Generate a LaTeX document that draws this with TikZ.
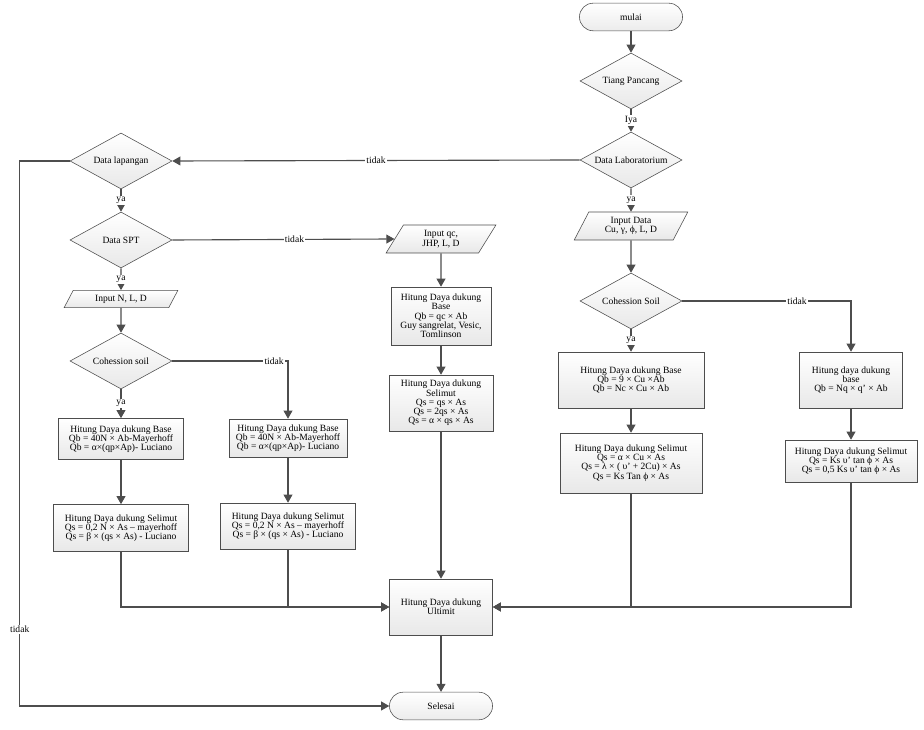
\documentclass[tikz,border=0pt]{standalone}
\usepackage{fontspec}
\setmainfont{Liberation Serif}
\usepackage{tikz}
\usetikzlibrary{arrows.meta,shapes.geometric,shadows}

\definecolor{garis}{HTML}{4D4D4D}

\begin{document}
\begin{tikzpicture}[
    font=\fontsize{6.8}{6.6}\selectfont,
    proses/.style={
        rectangle,
        draw=garis,
        top color=white,
        bottom color=gray!18,
        align=center,
        inner sep=1pt,
        drop shadow={opacity=0.2, shadow xshift=0.6pt, shadow yshift=-0.6pt}
    },
    keputusan/.style={
        diamond,
        aspect=1.85,
        draw=garis,
        top color=white,
        bottom color=gray!18,
        align=center,
        inner sep=0pt,
        minimum width=2.55cm,
        minimum height=1.4cm
    },
    masukan/.style={
        trapezium,
        trapezium left angle=65,
        trapezium right angle=115,
        trapezium stretches=true,
        draw=garis,
        top color=white,
        bottom color=gray!18,
        align=center,
        inner sep=1pt,
        minimum width=2.85cm,
        minimum height=0.7cm
    },
    terminal/.style={
        rectangle,
        rounded corners=3.4mm,
        draw=garis,
        top color=white,
        bottom color=gray!15,
        align=center,
        minimum width=2.575cm,
        minimum height=0.69cm
    },
    ket/.style={fill=white, inner sep=1pt},
    panah/.style={-{Triangle[length=0.2cm, width=0.22cm]}, draw=garis, thick}
]
\useasboundingbox (0,0) rectangle (23.1,18.25);

% JALUR LABORATORIUM (KANAN)
\node[terminal] (mulai) at (15.775, 17.825) {mulai};
\node[keputusan] (tiang) at (15.775, 16.225) {Tiang Pancang};
\node[keputusan] (lab) at (15.775, 14.25) {Data Laboratorium};
\node[masukan] (inputlab) at (15.775, 12.6) {Input Data\\Cu, γ, ϕ, L, D};
\node[keputusan] (kohesiR) at (15.775, 10.725) {Cohession Soil};
\node[proses, minimum width=3.65cm, minimum height=1.4cm] (baseD) at (15.775, 8.75)
    {Hitung Daya dukung Base\\Qb = 9 × Cu ×Ab\\Qb = Nc × Cu × Ab};
\node[proses, minimum width=2.575cm, minimum height=1.4cm] (baseE) at (21.275, 8.75)
    {Hitung daya dukung\\base\\Qb = Nq × q' × Ab};
\node[proses, minimum width=3.55cm, minimum height=1.5cm] (selD) at (15.775, 6.675)
    {Hitung Daya dukung Selimut\\Qs = α × Cu × As\\Qs = λ × ( υ' + 2Cu) × As\\Qs = Ks Tan ϕ × As};
\node[proses, minimum width=3.3cm, minimum height=1.05cm] (selE) at (21.275, 6.725)
    {Hitung Daya dukung Selimut\\Qs = Ks υ' tan ϕ × As\\Qs = 0,5 Ks υ' tan ϕ × As};

% JALUR LAPANGAN (KIRI)
\node[keputusan] (lapangan) at (3.025, 14.225) {Data lapangan};
\node[keputusan] (spt) at (3.025, 12.25) {Data SPT};
\node[masukan, minimum height=0.43cm] (inputN) at (3.025, 10.775) {Input N, L, D};
\node[keputusan] (kohesiL) at (3.025, 9.225) {Cohession soil};
\node[proses, minimum width=3.125cm, minimum height=1.025cm] (baseA) at (3.025, 7.275)
    {Hitung Daya dukung Base\\Qb = 40N × Ab-Mayerhoff\\Qb = α×(qp×Ap)- Luciano};
\node[proses, minimum width=2.95cm, minimum height=0.95cm] (baseB) at (7.2, 7.3)
    {Hitung Daya dukung Base\\Qb = 40N × Ab-Mayerhoff\\Qb = α×(qp×Ap)- Luciano};
\node[proses, minimum width=3.375cm, minimum height=1.175cm] (selA) at (3.025, 5.05)
    {Hitung Daya dukung Selimut\\Qs = 0,2 N × As – mayerhoff\\Qs = β × (qs × As) - Luciano};
\node[proses, minimum width=3.375cm, minimum height=1.15cm] (selB) at (7.2, 5.1)
    {Hitung Daya dukung Selimut\\Qs = 0,2 N × As – mayerhoff\\Qs = β × (qs × As) - Luciano};

% JALUR SONDIR (TENGAH)
\node[masukan, minimum width=2.75cm] (inputqc) at (11.025, 12.275) {Input qc,\\JHP, L, D};
\node[proses, minimum width=2.5cm, minimum height=1.45cm] (baseC) at (11.025, 10.35)
    {Hitung Daya dukung\\Base\\Qb = qc × Ab\\Guy sangrelat, Vesic,\\Tomlinson};
\node[proses, minimum width=2.6cm, minimum height=1.4cm] (selC) at (11.025, 8.175)
    {Hitung Daya dukung\\Selimut\\Qs = qs × As\\Qs = 2qs × As\\Qs = α × qs × As};

% HASIL
\node[proses, minimum width=2.575cm, minimum height=1.4cm] (ultimit) at (11.025, 3.075)
    {Hitung Daya dukung\\Ultimit};
\node[terminal] (selesai) at (11.025, 0.6) {Selesai};

% --- ALUR LABORATORIUM ---
\draw[panah] (mulai) -- (tiang);
\draw[panah] (tiang) -- node[ket]{Iya} (lab);
\draw[panah] (lab) -- node[ket]{ya} (inputlab);
\draw[panah] (inputlab) -- (kohesiR);
\draw[panah] (kohesiR) -- node[ket]{ya} (baseD);
\draw[panah] (baseD) -- (selD);
\draw[panah] (kohesiR.east) -| node[ket, pos=0.34]{tidak} (baseE.north);
\draw[panah] (baseE) -- (selE);
\draw[panah] (selD.south) |- (ultimit.east);
\draw[panah] (selE.south) |- (ultimit.east);

% --- ALUR LAPANGAN ---
\draw[panah] (lab.west) -- node[ket]{tidak} (lapangan.east);
\draw[panah] (lapangan) -- node[ket]{ya} (spt);
\draw[panah] (spt) -- node[ket]{ya} (inputN);
\draw[panah] (inputN) -- (kohesiL);
\draw[panah] (kohesiL) -- node[ket]{ya} (baseA);
\draw[panah] (baseA) -- (selA);
\draw[panah] (kohesiL.east) -| node[ket, pos=0.44]{tidak} (baseB.north);
\draw[panah] (baseB) -- (selB);
\draw[panah] (selA.south) |- (ultimit.west);
\draw[panah] (selB.south) |- (ultimit.west);

% --- ALUR SONDIR ---
\draw[panah] (spt.east) -- node[ket, pos=0.55]{tidak} (inputqc.west);
\draw[panah] (inputqc) -- (baseC);
\draw[panah] (baseC) -- (selC);
\draw[panah] (selC) -- (ultimit);
\draw[panah] (ultimit) -- (selesai);
\draw[panah] (lapangan.west) -- ++(-1.25,0) |- node[ket, pos=0.43]{tidak} (selesai.west);

\end{tikzpicture}
\end{document}
